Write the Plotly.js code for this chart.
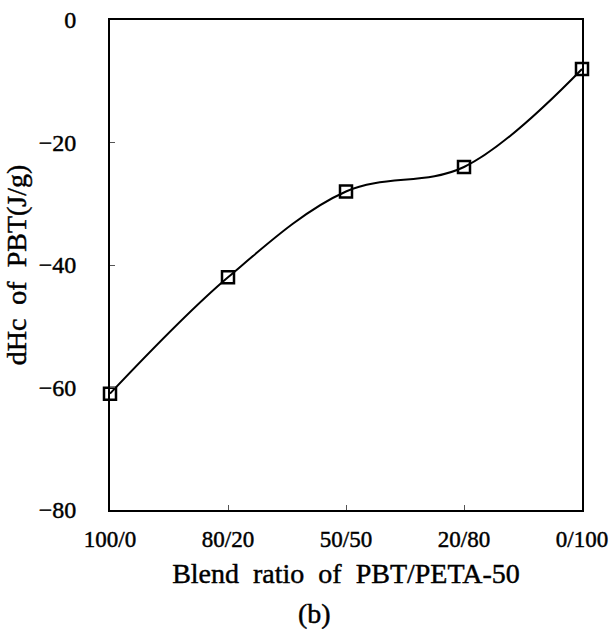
<!DOCTYPE html>
<html>
<head>
<meta charset="utf-8">
<script src="https://cdn.plot.ly/plotly-3.0.1.min.js"></script>
<style>
html,body{margin:0;padding:0;background:#fff;}
#chart svg text{stroke:#000;stroke-width:0.45px;}
</style>
</head>
<body>
<div id="chart" style="width:616px;height:631px;"></div>
<script>
const categories = ["100/0", "80/20", "50/50", "20/80", "0/100"];
const dHc = [-61, -42, -28, -24, -8];
const yTicks = [0, -20, -40, -60, -80];
const xTitle = "Blend\u00A0\u00A0ratio\u00A0\u00A0of\u00A0\u00A0PBT/PETA-50";
const yTitle = "dHc\u00A0\u00A0of\u00A0\u00A0PBT(J/g)";
const panelLabel = "(b)";

const fam = "Liberation Serif, DejaVu Serif, serif";

Plotly.newPlot("chart", [{
  x: categories,
  y: dHc,
  type: "scatter",
  mode: "lines+markers",
  line: {color: "#000", width: 2, shape: "spline", smoothing: 1},
  marker: {symbol: "square-open", size: 12, color: "#000", line: {width: 2.5, color: "#000"}},
  cliponaxis: false,
  showlegend: false
}], {
  width: 616,
  height: 631,
  margin: {l: 110, r: 34, t: 20, b: 121},
  paper_bgcolor: "#fff",
  plot_bgcolor: "#fff",
  font: {family: fam, size: 23, color: "#000"},
  xaxis: {
    type: "category",
    range: [0, 4],
    showline: true, linecolor: "#000", linewidth: 2, mirror: true,
    ticks: "inside", ticklen: 5, tickwidth: 1, tickcolor: "#555",
    showgrid: false, zeroline: false,
    ticklabelstandoff: 7,
    tickfont: {family: fam, size: 23, color: "#000"},
    title: {text: xTitle, font: {family: fam, size: 28, color: "#000"}, standoff: 13}
  },
  yaxis: {
    range: [-80, 0],
    tickvals: yTicks,
    showline: true, linecolor: "#000", linewidth: 2, mirror: true,
    ticks: "inside", ticklen: 5, tickwidth: 1, tickcolor: "#555",
    showgrid: false, zeroline: false,
    ticklabelstandoff: 27,
    tickfont: {family: fam, size: 24, color: "#000"},
    title: {text: yTitle, font: {family: fam, size: 28, color: "#000"}, standoff: 4}
  },
  annotations: [{
    text: panelLabel, xref: "paper", yref: "paper",
    x: 0.434, y: -0.212, xanchor: "center", yanchor: "middle",
    showarrow: false, font: {family: fam, size: 28, color: "#000"}
  }]
}, {displayModeBar: false, staticPlot: true});
</script>
</body>
</html>
